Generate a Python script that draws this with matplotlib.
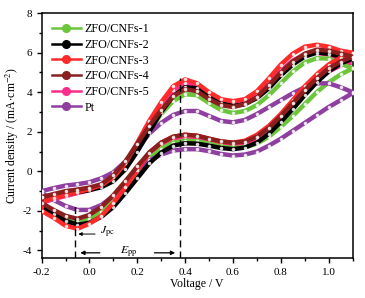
import matplotlib
matplotlib.use("Agg")
import matplotlib.pyplot as plt
from matplotlib.ticker import MultipleLocator, FormatStrFormatter

plt.rcParams['font.family'] = ['Liberation Serif', 'DejaVu Serif']
plt.rcParams['mathtext.fontset'] = 'stix'

# --- dati (scansione da -0.2 a 1.1 V) ---
volts = [-0.2, -0.15, -0.1, -0.05, 0.0, 0.05, 0.1, 0.15, 0.2, 0.25, 0.3, 0.35, 0.4, 0.45,
         0.5, 0.55, 0.6, 0.65, 0.7, 0.75, 0.8, 0.85, 0.9, 0.95, 1.0, 1.05, 1.1]

labels = ['ZFO/CNFs-1', 'ZFO/CNFs-2', 'ZFO/CNFs-3', 'ZFO/CNFs-4', 'ZFO/CNFs-5', 'Pt']
colors = ['#6cc63c', '#000000', '#ff2a2a', '#8b1e1e', '#ff2d8a', '#8e3fa0']

# ramo superiore (andata)
up_1 = [-1.5, -1.3, -1.15, -1.0, -0.88, -0.7, -0.35, 0.3, 1.15, 2.05, 2.9, 3.55, 3.9, 3.85,
        3.45, 3.1, 2.95, 3.05, 3.35, 3.85, 4.45, 5.05, 5.5, 5.72, 5.7, 5.45, 5.2]
up_2 = [-1.45, -1.3, -1.15, -1.05, -0.95, -0.8, -0.5, 0.1, 1.0, 2.0, 3.0, 3.8, 4.25, 4.2,
        3.8, 3.45, 3.3, 3.4, 3.7, 4.2, 4.85, 5.4, 5.8, 6.0, 5.95, 5.8, 5.7]
up_3 = [-1.55, -1.35, -1.2, -1.05, -0.9, -0.7, -0.3, 0.4, 1.45, 2.55, 3.5, 4.3, 4.65, 4.45,
        4.0, 3.65, 3.55, 3.65, 4.05, 4.7, 5.4, 5.95, 6.3, 6.4, 6.3, 6.1, 6.0]
up_4 = [-1.3, -1.15, -1.0, -0.92, -0.82, -0.65, -0.2, 0.5, 1.4, 2.3, 3.1, 3.8, 4.15, 4.05,
        3.65, 3.35, 3.25, 3.4, 3.75, 4.35, 5.0, 5.55, 5.95, 6.15, 6.1, 5.95, 5.8]
up_5 = [-1.6, -1.4, -1.25, -1.1, -0.95, -0.75, -0.35, 0.35, 1.35, 2.4, 3.35, 4.1, 4.45, 4.3,
        3.85, 3.5, 3.4, 3.5, 3.85, 4.45, 5.1, 5.6, 5.9, 6.0, 5.9, 5.7, 5.5]
up_pt = [-1.0, -0.85, -0.72, -0.65, -0.55, -0.35, -0.05, 0.5, 1.2, 1.9, 2.45, 2.85, 3.05, 3.05,
         2.8, 2.55, 2.48, 2.6, 2.9, 3.25, 3.6, 3.95, 4.25, 4.45, 4.45, 4.25, 4.0]

# ramo inferiore (ritorno), stessi potenziali
low_1 = [-1.7, -2.05, -2.35, -2.5, -2.4, -2.05, -1.5, -0.8, -0.05, 0.65, 1.15, 1.45, 1.55, 1.52,
         1.4, 1.25, 1.18, 1.22, 1.4, 1.75, 2.25, 2.8, 3.4, 4.0, 4.5, 4.9, 5.2]
low_2 = [-1.75, -2.15, -2.5, -2.7, -2.6, -2.3, -1.8, -1.1, -0.35, 0.4, 0.95, 1.3, 1.42, 1.4,
         1.3, 1.18, 1.12, 1.2, 1.45, 1.9, 2.5, 3.15, 3.85, 4.5, 5.05, 5.45, 5.7]
low_3 = [-2.0, -2.35, -2.75, -2.9, -2.65, -2.25, -1.6, -0.8, 0.05, 0.95, 1.45, 1.75, 1.85, 1.8,
         1.65, 1.5, 1.45, 1.55, 1.85, 2.3, 2.9, 3.6, 4.3, 4.9, 5.4, 5.75, 6.0]
low_4 = [-1.6, -1.95, -2.25, -2.4, -2.2, -1.8, -1.2, -0.5, 0.25, 0.95, 1.45, 1.75, 1.85, 1.8,
         1.65, 1.52, 1.45, 1.5, 1.75, 2.2, 2.8, 3.45, 4.1, 4.7, 5.2, 5.55, 5.8]
low_5 = [-1.85, -2.25, -2.6, -2.75, -2.55, -2.1, -1.45, -0.7, 0.1, 0.8, 1.3, 1.55, 1.62, 1.58,
         1.45, 1.33, 1.3, 1.38, 1.65, 2.1, 2.7, 3.35, 4.0, 4.6, 5.05, 5.35, 5.5]
low_pt = [-1.1, -1.45, -1.75, -1.95, -1.95, -1.7, -1.25, -0.6, 0.05, 0.55, 0.85, 1.05, 1.12, 1.12,
          1.02, 0.88, 0.8, 0.85, 1.0, 1.3, 1.65, 2.05, 2.45, 2.85, 3.25, 3.6, 3.95]

upper = [up_1, up_2, up_3, up_4, up_5, up_pt]
lower = [low_1, low_2, low_3, low_4, low_5, low_pt]
zorders = [3, 4, 5, 6, 2, 3]

fig = plt.figure(figsize=(3.65, 2.98), dpi=100)
ax = fig.add_axes([0.114, 0.133, 0.852, 0.823])

for lab, col, up, low, z in zip(labels, colors, upper, lower, zorders):
    # ciclo chiuso: andata e poi ritorno
    xs = volts + volts[::-1] + [volts[0]]
    ys = up + low[::-1] + [up[0]]
    ax.plot(xs, ys, color=col, lw=3.2, zorder=z, solid_capstyle='round')
    ax.plot(xs, ys, ls='none', marker='o', ms=1.6, color='white', alpha=0.75, zorder=z)
    # solo per la legenda
    ax.plot([], [], color=col, lw=1.8, marker='o', ms=5.5, mfc=col, mec=col, label=lab)

# linee tratteggiate e frecce
ax.plot([-0.062, -0.062], [-4.4, -1.7], color='black', ls=(0, (5, 3)), lw=1.0, zorder=8)
ax.plot([0.38, 0.38], [-4.4, 4.7], color='black', ls=(0, (5, 3)), lw=1.0, zorder=8)

ax.annotate('', xy=(-0.058, -3.17), xytext=(0.035, -3.17),
            arrowprops=dict(arrowstyle='-|>', color='black', lw=0.7, mutation_scale=5), zorder=9)
ax.text(0.045, -3.05, r'$J_{\rm pc}$', fontsize=8.5, ha='left', va='center')

ax.annotate('', xy=(-0.05, -4.12), xytext=(0.055, -4.12),
            arrowprops=dict(arrowstyle='-|>', color='black', lw=0.9, mutation_scale=6))
ax.annotate('', xy=(0.37, -4.12), xytext=(0.26, -4.12),
            arrowprops=dict(arrowstyle='-|>', color='black', lw=0.9, mutation_scale=6))
ax.text(0.165, -4.05, r'$E_{\rm pp}$', fontsize=8.5, ha='center', va='center')

ax.set_xlim(-0.2, 1.1)
ax.set_ylim(-4.4, 8)
ax.xaxis.set_major_locator(MultipleLocator(0.2))
ax.xaxis.set_minor_locator(MultipleLocator(0.1))
ax.yaxis.set_major_locator(MultipleLocator(2))
ax.yaxis.set_minor_locator(MultipleLocator(1))
ax.xaxis.set_major_formatter(FormatStrFormatter('%.1f'))
ax.yaxis.set_major_formatter(FormatStrFormatter('%d'))

ax.tick_params(which='both', direction='out', top=False, right=False, labelsize=8, width=1.0)
ax.tick_params(which='major', length=3.5)
ax.tick_params(which='minor', length=2)
for sp in ax.spines.values():
    sp.set_linewidth(1.1)

ax.set_xlabel('Voltage / V', fontsize=8.5, labelpad=1)
ax.set_ylabel(r'Current density / (mA$\cdot$cm$^{-2}$)', fontsize=8.5, labelpad=1)

ax.legend(loc='upper left', frameon=False, fontsize=8.7, handlelength=2.4,
          handletextpad=0.3, labelspacing=0.3, borderaxespad=0.45)

fig.savefig('out.png', dpi=100)
